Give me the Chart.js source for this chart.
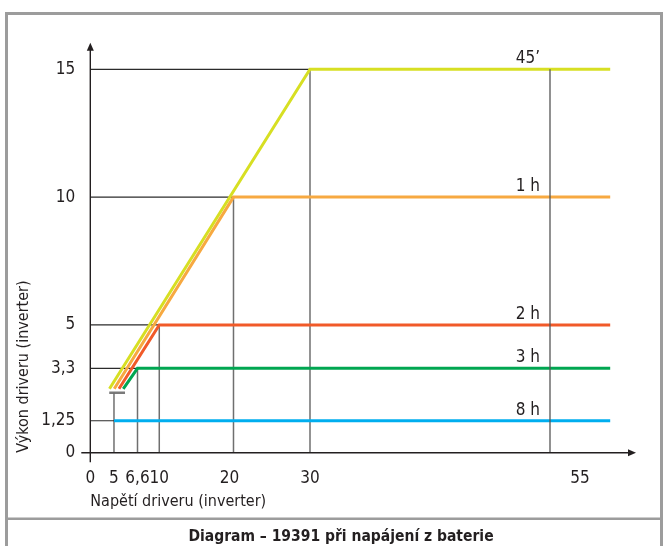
<!DOCTYPE html>
<html>
<head>
<meta charset="utf-8">
<script src="https://cdn.jsdelivr.net/npm/chart.js@4/dist/chart.umd.min.js"></script>
<style>
  html, body { margin: 0; padding: 0; background: #fff; }
  canvas { display: block; }
</style>
</head>
<body>
<canvas id="chart" width="664" height="546"></canvas>
<script>
// ============================================
// Diagram 19391 — power vs. voltage of the driver
// ============================================

// --- data ---
const seriesLabels = ['45’', '1 h', '2 h', '3 h', '8 h'];
const startVoltage = [4.05, 5.02, 5.34, 5.63, 5];
const startPower = [2.5, 2.5, 2.5, 2.5, 1.25];
const kneeVoltage = [30, 20, 10, 6.6, 5];
const kneePower = [15, 10, 5, 3.3, 1.25];
const endVoltage = 61.3;

const xTickValues = [0, 5, 6.6, 10, 20, 30, 55];
const xTickLabels = ['0', '5', '6,6', '10', '20', '30', '55'];
const yTickValues = [0, 1.25, 3.3, 5, 10, 15];
const yTickLabels = ['0', '1,25', '3,3', '5', '10', '15'];

const markVoltage = 55;        // vertical reference line
const minPower = 2.35;         // small bar under the rising lines
const minBarVoltage = [4.0, 5.75];

// --- style ---
const FONT = "'Liberation Sans Narrow', 'Arial Narrow', 'DejaVu Sans Condensed', sans-serif";
const INK = '#231f20';
const seriesColors = ['#d7df23', '#f7a941', '#f15a29', '#00a651', '#00aeef'];

Chart.defaults.font.family = FONT;
Chart.defaults.color = INK;

// Linear scale with a piecewise value -> pixel map (the drawing is not to scale)
class BrokenScale extends Chart.LinearScale {
  _frac(v) {
    const b = this.options.breaks;
    if (v <= b[0][0]) return b[0][1];
    for (let i = 1; i < b.length; i++) {
      if (v <= b[i][0]) {
        const [v0, f0] = b[i - 1];
        const [v1, f1] = b[i];
        return f0 + (v - v0) / (v1 - v0) * (f1 - f0);
      }
    }
    return b[b.length - 1][1];
  }
  getPixelForValue(value) {
    return this.getPixelForDecimal(this._frac(value));
  }
  getValueForPixel(pixel) {
    const f = this.getDecimalForPixel(pixel);
    const b = this.options.breaks;
    for (let i = 1; i < b.length; i++) {
      if (f <= b[i][1]) {
        const [v0, f0] = b[i - 1];
        const [v1, f1] = b[i];
        return v0 + (f - f0) / (f1 - f0) * (v1 - v0);
      }
    }
    return b[b.length - 1][0];
  }
}
BrokenScale.id = 'broken';
BrokenScale.defaults = Chart.LinearScale.defaults;
Chart.register(BrokenScale);

// --- datasets ---
const curves = seriesLabels.map((label, i) => ({
  label,
  data: [
    { x: startVoltage[i], y: startPower[i] },
    { x: kneeVoltage[i], y: kneePower[i] },
    { x: endVoltage, y: kneePower[i] },
  ],
  borderColor: seriesColors[i],
  borderWidth: 3,
  borderJoinStyle: 'miter',
  order: 1,
}));

const guide = (data, color, width, order = 2) => ({
  data,
  borderColor: color,
  borderWidth: width,
  order,
});

const guides = [];
kneeVoltage.forEach((v, i) => {
  guides.push(guide([{ x: 0, y: kneePower[i] }, { x: v, y: kneePower[i] }], '#2b2b2b', 1.2));
  const top = i === kneeVoltage.length - 1 ? minPower : kneePower[i];
  guides.push(guide([{ x: v, y: 0 }, { x: v, y: top }], '#6f6f6f', 1.5));
});
guides.push(guide([{ x: minBarVoltage[0], y: minPower }, { x: minBarVoltage[1], y: minPower }], '#7a7a7a', 2.5));
guides.push(guide([{ x: markVoltage, y: 0 }, { x: markVoltage, y: Math.max(...kneePower) }], '#555', 1.3, 0));

// --- drawing extras: frame, caption, axes with arrows, labels ---
const diagramDecor = {
  id: 'diagramDecor',
  beforeDraw(chart) {
    const { ctx } = chart;
    ctx.save();
    ctx.fillStyle = '#fff';
    ctx.fillRect(0, 0, chart.width, chart.height);
    ctx.restore();
  },
  afterDraw(chart) {
    const { ctx, chartArea } = chart;
    const xs = chart.scales.x;
    const ys = chart.scales.y;
    const x0 = xs.getPixelForValue(0);
    const y0 = ys.getPixelForValue(0);
    ctx.save();

    // frame + separator
    ctx.strokeStyle = '#9c9c9c';
    ctx.lineWidth = 3;
    ctx.strokeRect(6.5, 13.5, 655, 540);
    ctx.fillStyle = '#9c9c9c';
    ctx.fillRect(5, 517.5, 658, 2.5);

    // caption
    ctx.fillStyle = INK;
    ctx.font = `bold 15.5px ${FONT}`;
    ctx.textAlign = 'center';
    ctx.textBaseline = 'alphabetic';
    ctx.fillText('Diagram – 19391 při napájení z baterie', 341, 541);

    // axes
    ctx.strokeStyle = INK;
    ctx.lineWidth = 1.4;
    ctx.beginPath();
    ctx.moveTo(x0, chartArea.top + 6);
    ctx.lineTo(x0, y0 + 9.5);
    ctx.moveTo(x0 - 9, y0);
    ctx.lineTo(chartArea.right - 6, y0);
    ctx.stroke();
    ctx.fillStyle = INK;
    ctx.beginPath();
    ctx.moveTo(x0, chartArea.top);
    ctx.lineTo(x0 - 3.5, chartArea.top + 8);
    ctx.lineTo(x0 + 3.5, chartArea.top + 8);
    ctx.closePath();
    ctx.fill();
    ctx.beginPath();
    ctx.moveTo(chartArea.right, y0);
    ctx.lineTo(chartArea.right - 8, y0 - 3.5);
    ctx.lineTo(chartArea.right - 8, y0 + 3.5);
    ctx.closePath();
    ctx.fill();

    // x tick labels (the 20 and 55 labels sit a little off their lines in the original)
    const nudge = { 20: -4, 55: 30 };
    ctx.font = `17px ${FONT}`;
    ctx.textAlign = 'center';
    ctx.textBaseline = 'middle';
    xTickValues.forEach((v, i) => {
      ctx.fillText(xTickLabels[i], xs.getPixelForValue(v) + (nudge[v] || 0), y0 + 26);
    });

    // series names above each line
    ctx.textAlign = 'right';
    ctx.textBaseline = 'alphabetic';
    const lx = xs.getPixelForValue(markVoltage) - 10;
    seriesLabels.forEach((label, i) => {
      ctx.fillText(label, lx, ys.getPixelForValue(kneePower[i]) - 6);
    });

    ctx.restore();
  },
};

new Chart(document.getElementById('chart'), {
  type: 'line',
  data: { datasets: [...guides, ...curves] },
  plugins: [diagramDecor],
  options: {
    responsive: false,
    animation: false,
    events: [],
    layout: { padding: { left: 8, right: 28, top: 42.7, bottom: 34.7 } },
    elements: {
      point: { radius: 0 },
      line: { tension: 0, borderCapStyle: 'butt', fill: false },
    },
    plugins: {
      legend: { display: false },
      tooltip: { enabled: false },
    },
    scales: {
      x: {
        type: 'broken',
        min: 0,
        max: 64,
        breaks: [[0, 0], [5, 0.0434], [6.6, 0.0865], [10, 0.1264], [20, 0.2624], [30, 0.4026], [55, 0.8424], [64, 1]],
        grid: { display: false, drawTicks: false },
        border: { display: false },
        ticks: { display: false },
        afterFit: (scale) => { scale.height = 58.6; },
        title: {
          display: true,
          text: 'Napětí driveru (inverter)',
          align: 'start',
          font: { size: 16 },
          padding: 0,
        },
      },
      y: {
        type: 'linear',
        min: 0,
        max: 16.04,
        grid: { display: false, drawTicks: false },
        border: { display: false },
        afterBuildTicks: (scale) => {
          scale.ticks = yTickValues.map(v => ({ value: v }));
        },
        afterFit: (scale) => { scale.width = 82.3; },
        ticks: {
          padding: 15,
          font: { size: 17 },
          callback: (val) => yTickLabels[yTickValues.indexOf(val)],
        },
        title: {
          display: true,
          text: 'Výkon driveru (inverter)',
          align: 'start',
          font: { size: 16 },
          padding: { top: 6, bottom: 0 },
        },
      },
    },
  },
});
</script>
</body>
</html>
